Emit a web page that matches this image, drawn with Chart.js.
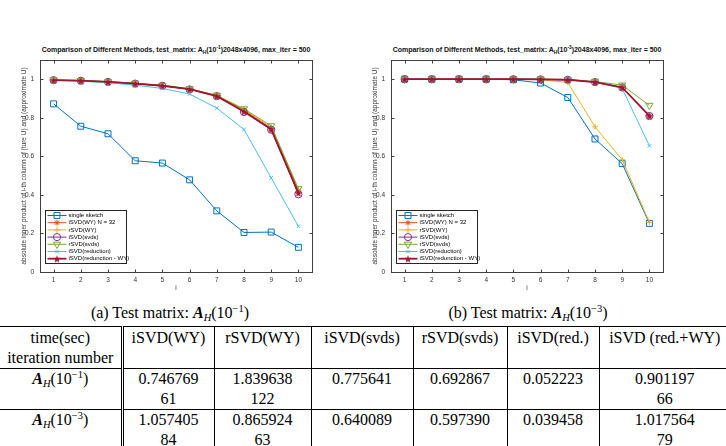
<!DOCTYPE html>
<html>
<head>
<meta charset="utf-8">
<script src="https://cdn.jsdelivr.net/npm/chart.js@4"></script>
<style>
  body { margin:0; width:726px; height:446px; background:#fff; position:relative; overflow:hidden; font-family:"Liberation Sans", Arial, sans-serif; }
  canvas { position:absolute; top:50px; }
  .ttl { position:absolute; top:45px; width:320px; text-align:center; font-weight:bold; font-size:7px; line-height:10px; color:#111; white-space:nowrap; }
  .ttl sub { font-size:4.8px; vertical-align:-2px; line-height:0; }
  .ttl sup { font-size:4.8px; vertical-align:3px; line-height:0; }
  .cap { position:absolute; top:304px; width:300px; text-align:center; font-family:"Liberation Serif", serif; font-size:16px; white-space:nowrap; }
  .cap sub, #tb sub { font-size:10.5px; vertical-align:-3px; line-height:0; }
  .cap sup, #tb sup { font-size:10.5px; vertical-align:6px; line-height:0; }
  #tb { position:absolute; left:0; top:326px; width:730px; border-collapse:collapse; table-layout:fixed; font-family:"Liberation Serif", serif; font-size:16px; line-height:20px; border-top:1px solid #000; }
  #tb td { text-align:center; vertical-align:top; padding:0 2px 0 2px; height:40px; border-left:1px solid #000; border-bottom:1px solid #000; white-space:nowrap; overflow:hidden; }
  #tb td.first { border-left:none; border-right:3px double #000; }
  #tb tr:first-child td { padding-top:1px; height:40px; }
</style>
</head>
<body>
<div class="ttl" style="left:16px">Comparison of Different Methods, test_matrix: A<sub>H</sub>(10<sup>-1</sup>)2048x4096, max_iter = 500</div>
<div class="ttl" style="left:367px">Comparison of Different Methods, test_matrix: A<sub>H</sub>(10<sup>-3</sup>)2048x4096, max_iter = 500</div>
<canvas id="chartA" width="340" height="250" style="left:0"></canvas>
<canvas id="chartB" width="340" height="250" style="left:351px"></canvas>
<div class="cap" style="left:20px">(a) Test matrix: <b><i>A</i></b><sub><i>H</i></sub>(10<sup>−1</sup>)</div>
<div class="cap" style="left:378px">(b) Test matrix: <b><i>A</i></b><sub><i>H</i></sub>(10<sup>−3</sup>)</div>

<table id="tb">
  <colgroup>
    <col style="width:122px"><col style="width:92px"><col style="width:97px"><col style="width:102px"><col style="width:94px"><col style="width:92px"><col style="width:131px">
  </colgroup>
  <tr>
    <td class="first">time(sec)<br>iteration number</td>
    <td>iSVD(WY)</td><td>rSVD(WY)</td><td>iSVD(svds)</td><td>rSVD(svds)</td><td>iSVD(red.)</td><td>iSVD (red.+WY)</td>
  </tr>
  <tr>
    <td class="first"><b><i>A</i></b><sub><i>H</i></sub>(10<sup>−1</sup>)</td>
    <td>0.746769<br>61</td><td>1.839638<br>122</td><td>0.775641</td><td>0.692867</td><td>0.052223</td><td>0.901197<br>66</td>
  </tr>
  <tr>
    <td class="first"><b><i>A</i></b><sub><i>H</i></sub>(10<sup>−3</sup>)</td>
    <td>1.057405<br>84</td><td>0.865924<br>63</td><td>0.640089</td><td>0.597390</td><td>0.039458</td><td>1.017564<br>79</td>
  </tr>
</table>

<script>
const iLabels = ['1', '2', '3', '4', '5', '6', '7', '8', '9', '10'];
const yTicks = [0, 0.2, 0.4, 0.6, 0.8, 1];
const methodNames = ['single sketch', 'iSVD(WY) N = 32', 'rSVD(WY)', 'iSVD(svds)', 'rSVD(svds)', 'iSVD(reduction)', 'iSVD(redunction - WY)'];

// test matrix A_H(10^-1)
const a_single = [0.872, 0.756, 0.717, 0.577, 0.565, 0.478, 0.317, 0.205, 0.207, 0.128];
const a_isvdWY = [0.995, 0.992, 0.986, 0.977, 0.966, 0.948, 0.914, 0.840, 0.745, 0.420];
const a_rsvdWY = [0.995, 0.992, 0.987, 0.978, 0.967, 0.949, 0.915, 0.843, 0.750, 0.425];
const a_isvdSvds = [0.995, 0.992, 0.986, 0.977, 0.966, 0.947, 0.912, 0.830, 0.738, 0.403];
const a_rsvdSvds = [0.996, 0.993, 0.988, 0.979, 0.968, 0.950, 0.916, 0.846, 0.758, 0.432];
const a_reduction = [0.994, 0.989, 0.982, 0.969, 0.952, 0.923, 0.850, 0.739, 0.488, 0.237];
const a_redWY = [0.995, 0.992, 0.986, 0.977, 0.966, 0.948, 0.912, 0.832, 0.740, 0.410];

// test matrix A_H(10^-3)
const b_single = [1.0, 1.0, 1.0, 1.0, 0.997, 0.980, 0.905, 0.690, 0.562, 0.252];
const b_isvdWY = [1.0, 1.0, 1.0, 1.0, 1.0, 0.999, 0.997, 0.985, 0.958, 0.810];
const b_rsvdWY = [1.0, 1.0, 1.0, 1.0, 1.0, 0.997, 0.983, 0.753, 0.582, 0.258];
const b_isvdSvds = [1.0, 1.0, 1.0, 1.0, 1.0, 0.999, 0.997, 0.985, 0.957, 0.809];
const b_rsvdSvds = [1.0, 1.0, 1.0, 1.0, 1.0, 1.0, 0.998, 0.988, 0.969, 0.864];
const b_reduction = [1.0, 1.0, 1.0, 1.0, 1.0, 0.999, 0.997, 0.984, 0.952, 0.654];
const b_redWY = [1.0, 1.0, 1.0, 1.0, 1.0, 0.999, 0.997, 0.985, 0.957, 0.810];

// filled pentagram marker (matlab 'p')
function makePentagram(size, color) {
  const c = document.createElement('canvas');
  c.width = size; c.height = size;
  const g = c.getContext('2d');
  const r = size / 2, ri = r * 0.42;
  g.beginPath();
  for (let k = 0; k < 10; k++) {
    const rad = k % 2 === 0 ? r : ri;
    const ang = -Math.PI / 2 + k * Math.PI / 5;
    const px = r + rad * Math.cos(ang), py = r + 0.5 + rad * Math.sin(ang);
    if (k === 0) g.moveTo(px, py); else g.lineTo(px, py);
  }
  g.closePath();
  g.fillStyle = color;
  g.fill();
  return c;
}

const lineColors = ['#0072BD', '#D95319', '#EDB120', '#7E2F8E', '#77AC30', '#4DBEEE', '#A2142F'];
const markers = ['rect', 'star', 'cross', 'circle', 'triangle', 'crossRot', makePentagram(8, '#A2142F')];
const markerSize = [4.2, 3, 3, 3.6, 4.2, 2.5, 4];
const markerRot = [0, 0, 0, 0, 180, 0, 0];
const lineWidths = [1, 1, 1, 1, 1, 1, 1.8];

// box + inward ticks like matlab, legend inside the axes
const boxTicks = {
  id: 'boxTicks',
  afterDatasetsDraw(chart) {
    const { ctx, chartArea: a, scales } = chart;
    ctx.save();
    ctx.strokeStyle = '#404040';
    ctx.lineWidth = 1;
    const L = Math.round(a.left) + 0.5, R = Math.round(a.right) + 0.5;
    const T = Math.round(a.top) + 0.5, B = Math.round(a.bottom) + 0.5;
    ctx.strokeRect(L, T, R - L, B - T);
    ctx.beginPath();
    scales.x.ticks.forEach((t, i) => {
      const x = Math.round(scales.x.getPixelForTick(i)) + 0.5;
      ctx.moveTo(x, B); ctx.lineTo(x, B - 3);
      ctx.moveTo(x, T); ctx.lineTo(x, T + 3);
    });
    yTicks.forEach(v => {
      const y = Math.round(scales.y.getPixelForValue(v)) + 0.5;
      ctx.moveTo(L, y); ctx.lineTo(L + 3, y);
      ctx.moveTo(R, y); ctx.lineTo(R - 3, y);
    });
    ctx.stroke();
    ctx.restore();
  },
  afterDraw(chart) {
    const { ctx, chartArea: a } = chart;
    const lx = Math.round(a.left) + 5.5, ly = Math.round(a.bottom) - 61.5;
    const w = 81, h = 53;
    ctx.save();
    ctx.fillStyle = '#fff';
    ctx.fillRect(lx, ly, w, h);
    ctx.strokeStyle = '#262626';
    ctx.lineWidth = 1;
    ctx.strokeRect(lx, ly, w, h);
    ctx.font = '6px "Liberation Sans", Arial, sans-serif';
    ctx.textBaseline = 'middle';
    chart.data.datasets.forEach((ds, i) => {
      const y = ly + 5 + i * 7.2;
      ctx.strokeStyle = ds.borderColor;
      ctx.lineWidth = ds.borderWidth;
      ctx.beginPath();
      ctx.moveTo(lx + 2, y); ctx.lineTo(lx + 21, y);
      ctx.stroke();
      ctx.lineWidth = 1;
      ctx.fillStyle = 'rgba(0,0,0,0)';
      Chart.helpers.drawPoint(ctx, {
        pointStyle: ds.pointStyle, radius: ds.pointRadius,
        rotation: ds.pointRotation, borderWidth: 1
      }, lx + 11.5, y);
      ctx.fillStyle = '#000';
      ctx.fillText(ds.label, lx + 23, y);
    });
    ctx.restore();
  }
};

function makeChart(canvasId, series) {
  const datasets = series.map((vals, i) => ({
    label: methodNames[i],
    data: vals,
    borderColor: lineColors[i],
    backgroundColor: 'transparent',
    borderWidth: lineWidths[i],
    pointStyle: markers[i],
    pointRadius: markerSize[i],
    pointRotation: markerRot[i],
    pointBorderWidth: 1,
    pointBorderColor: lineColors[i],
    pointBackgroundColor: 'transparent',
    tension: 0,
    order: series.length - i,
  }));

  const tickFont = { size: 6.5, family: '"Liberation Sans", Arial, sans-serif' };

  return new Chart(document.getElementById(canvasId), {
    type: 'line',
    data: { labels: iLabels, datasets: datasets },
    options: {
      responsive: false,
      animation: false,
      layout: { padding: { top: 8, right: 28, left: 0, bottom: 0 } },
      plugins: { legend: { display: false }, tooltip: { enabled: false }, title: { display: false } },
      scales: {
        x: {
          type: 'category',
          offset: true,
          grid: { display: false, drawTicks: false },
          border: { display: false },
          ticks: { color: '#333', padding: 4, font: tickFont, maxRotation: 0 },
          title: { display: true, text: 'i', color: '#333', padding: { top: 0, bottom: 8 }, font: tickFont },
          afterFit: (s) => { s.height = 28; },
        },
        y: {
          min: 0,
          max: 1.1,
          grid: { display: false, drawTicks: false },
          border: { display: false },
          ticks: {
            stepSize: 0.2, color: '#333', padding: 6, font: tickFont,
            callback: (v) => (v > 1.05 ? '' : String(+v.toFixed(1))),
          },
          title: {
            display: true,
            text: 'absolute inner product of i-th column of (ture U) and (approximate U)',
            color: '#333', padding: { top: 20, bottom: 0 }, font: tickFont,
          },
          afterFit: (s) => { s.width = 40; },
        },
      },
    },
    plugins: [boxTicks],
  });
}

makeChart('chartA', [a_single, a_isvdWY, a_rsvdWY, a_isvdSvds, a_rsvdSvds, a_reduction, a_redWY]);
makeChart('chartB', [b_single, b_isvdWY, b_rsvdWY, b_isvdSvds, b_rsvdSvds, b_reduction, b_redWY]);
</script>
</body>
</html>
